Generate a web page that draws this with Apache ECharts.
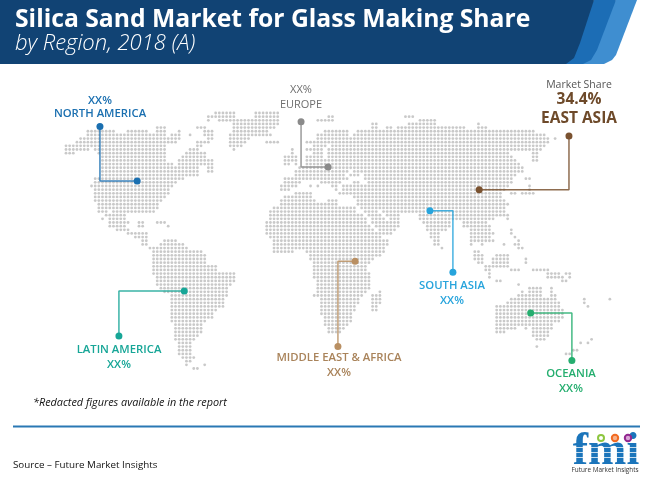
<!DOCTYPE html>
<html>
<head>
<meta charset="utf-8">
<title>Silica Sand Market for Glass Making Share</title>
<script src="https://cdn.jsdelivr.net/npm/echarts@6/dist/echarts.min.js"></script>
<style>
html,body{margin:0;padding:0;background:#fff}
#chart{width:650px;height:481px}
</style>
</head>
<body>
<div id="chart"></div>
<script>
var titleText = 'Silica Sand Market for Glass Making Share'
var subtitleText = 'by Region, 2018 (A)'
var noteText = '*Redacted figures available in the report'
var sourceText = 'Source \u2013 Future Market Insights'

var regionNames = ['NORTH AMERICA', 'EUROPE', 'EAST ASIA', 'SOUTH ASIA', 'MIDDLE EAST & AFRICA', 'LATIN AMERICA', 'OCEANIA']
var regionShares = ['XX%', 'XX%', '34.4%', 'XX%', 'XX%', 'XX%', 'XX%']
var regionColors = ['#1a6fb0', '#8a8a8a', '#7a5230', '#27a4dc', '#b98f62', '#17a697', '#25ae6f']

// leader lines, in dot-grid units (column, row)
var leaderNA = [[9.3, 3.7], [9.3, 18.6], [19.5, 18.6]]
var leaderEU = [[64.4, 2.4], [64.4, 14.8], [71.8, 14.8]]
var leaderEA = [[137.8, 6.3], [137.8, 21], [113.2, 21]]
var leaderSA = [[99.7, 26.8], [106, 26.8], [106, 43.6]]
var leaderMEA = [[79.2, 40.6], [74.5, 40.6], [74.5, 64]]
var leaderLA = [[32.4, 48.8], [14.5, 48.8], [14.5, 61.1]]
var leaderOC = [[127.3, 54.8], [138.6, 54.8], [138.6, 67.8]]
var leaders = [leaderNA, leaderEU, leaderEA, leaderSA, leaderMEA, leaderLA, leaderOC]

// land dots: one entry per map row, pairs of first and last column
var landRows = [
  [41,46, 52,58],
  [39,46, 52,58, 72,73, 93,95],
  [39,39, 42,58, 69,73, 97,101],
  [46,58, 84,85, 94,101, 113,113],
  [25,27, 36,38, 46,57, 84,85, 88,89, 91,109, 113,115],
  [6,13, 17,22, 25,27, 31,31, 38,40, 46,55, 71,77, 80,128],
  [6,27, 29,31, 34,34, 38,40, 45,56, 69,77, 79,131],
  [4,31, 39,40, 45,50, 69,132, 134,134],
  [3,30, 36,39, 45,49, 55,58, 66,132],
  [0,27, 36,37, 45,48, 68,71, 73,131],
  [0,6, 8,27, 34,36, 46,46, 62,62, 66,70, 72,130],
  [0,2, 9,27, 33,38, 62,62, 68,70, 72,121, 128,129],
  [10,27, 32,38, 60,63, 66,70, 72,122, 128,129],
  [10,27, 31,40, 60,63, 66,123, 128,129],
  [10,29, 31,40, 60,61, 63,63, 66,124],
  [10,36, 39,40, 64,125],
  [10,36, 39,40, 63,77, 79,125],
  [10,36, 63,76, 78,80, 82,123],
  [8,32, 60,62, 63,77, 82,122, 126,127],
  [8,30, 60,62, 63,64, 70,75, 79,80, 83,122],
  [7,29, 59,63, 67,67, 69,69, 73,74, 76,121, 127,127],
  [8,28, 59,61, 74,74, 76,120, 127,127],
  [8,28, 63,67, 75,75, 76,119, 122,123, 125,128],
  [8,27, 60,67, 79,119],
  [8,26, 59,68, 72,74, 80,120],
  [9,25, 59,74, 80,121],
  [9,25, 57,79, 81,120],
  [9,11, 13,24, 56,79, 82,85, 87,98, 100,120],
  [11,16, 56,81, 83,86, 88,91, 97,120, 121,121],
  [10,10, 12,16, 56,82, 84,87, 89,91, 97,117, 121,121],
  [12,17, 20,21, 25,27, 55,82, 84,91, 98,105, 109,115],
  [12,16, 20,21, 28,28, 55,83, 85,91, 99,105, 109,116],
  [14,17, 55,84, 86,90, 99,104, 111,116, 122,122],
  [17,22, 55,89, 100,102, 111,117, 122,122],
  [19,22, 56,86, 100,102, 111,116, 123,123],
  [21,22, 27,30, 57,88, 101,102, 111,117, 124,124],
  [21,22, 26,32, 57,88, 101,102, 111,111, 114,114, 120,120, 123,124],
  [23,33, 57,87, 103,103, 124,125],
  [24,37, 57,62, 66,87, 112,113],
  [24,38, 67,86, 112,114, 118,121],
  [24,38, 67,84, 112,114, 117,121, 126,126],
  [24,38, 68,83, 113,114, 117,121, 126,126],
  [24,41, 68,82, 115,116, 117,121],
  [24,41, 68,82, 115,116, 122,124, 128,128, 129,132],
  [24,46, 68,83, 116,116, 132,135, 137,138],
  [25,46, 68,83, 116,116, 132,136, 138,138],
  [25,46, 69,83, 118,119, 136,137],
  [25,45, 69,83, 124,124],
  [26,44, 69,83, 127,130, 133,133],
  [27,44, 69,82, 86,86, 125,125, 127,130, 133,133],
  [29,44, 68,81, 84,86, 124,130, 133,134],
  [29,43, 70,80, 84,86, 122,134, 142,142, 149,149],
  [29,43, 70,80, 84,86, 121,135, 142,142],
  [29,43, 70,79, 84,85, 118,135, 143,143],
  [29,41, 70,79, 84,85, 118,136],
  [29,40, 70,78, 118,136],
  [29,40, 71,78, 118,136],
  [29,38, 71,78, 118,135],
  [30,37, 71,77, 118,133],
  [30,37, 72,76, 118,123, 126,126, 128,133],
  [30,37, 72,75, 118,120, 128,132],
  [30,36, 128,132],
  [30,35, 129,131, 144,144],
  [31,34, 141,141, 143,143],
  [31,34, 129,129],
  [31,34, 139,140],
  [31,34, 137,138],
  [32,35],
  [33,34],
  [33,33, 38,38],
  [35,36]
]

var landDots = []
landRows.forEach(function (spans, row) {
  for (var i = 0; i < spans.length; i += 2) {
    for (var col = spans[i]; col <= spans[i + 1]; col++) landDots.push([col, row])
  }
})

var series = [{
  type: 'scatter',
  data: landDots,
  symbolSize: 2.8,
  itemStyle: { color: '#bcbcbc' },
  silent: true,
  z: 1
}]
leaders.forEach(function (pts, i) {
  series.push({
    name: regionNames[i],
    type: 'line',
    data: pts,
    symbol: 'circle',
    symbolSize: function (v, p) { return p.dataIndex === 1 ? 0 : 7 },
    lineStyle: { color: regionColors[i], width: 1.5, opacity: 0.85 },
    itemStyle: { color: regionColors[i] },
    showAllSymbol: true,
    silent: true,
    z: 3
  })
})

function label(text, x, y, size, weight, color, extra) {
  var st = {
    text: text, x: x, y: y, fill: color,
    font: weight + ' ' + size + 'px "Open Sans"',
    textAlign: 'center', textVerticalAlign: 'middle'
  }
  for (var k in extra) st[k] = extra[k]
  return { type: 'text', style: st, z: 10 }
}
function band(points, color) {
  return { type: 'polygon', shape: { points: points }, style: { fill: color }, z: 2 }
}

var graphics = [
  band([[616, 0], [637, 0], [616, 55], [612, 60], [604, 64], [570, 64]], '#3f8ed0'),
  band([[594, 0], [616, 0], [597, 50], [591, 60], [583, 64], [550, 64]], '#1c6db5'),
  band([[0, 0], [594, 0], [580, 43], [574, 58], [566, 64], [0, 64]], '#114374'),
  label(titleText, 15, 20, 24.7, 700, '#ffffff', { textAlign: 'left' }),
  label(subtitleText, 15, 44, 22, 300, '#ffffff', { textAlign: 'left', font: 'italic 300 22px "Open Sans"' }),

  label(regionShares[0], 100, 101, 11.3, 600, regionColors[0]),
  label(regionNames[0], 100, 114, 11.3, 600, regionColors[0]),
  label(regionShares[1], 301, 90, 11, 400, '#6f6f6f'),
  label(regionNames[1], 301, 105, 11, 400, '#6f6f6f'),
  label('Market Share', 579, 85, 10.5, 400, '#555555'),
  label(regionShares[2], 579, 100, 15.5, 700, '#6e4a2a'),
  label(regionNames[2], 579, 119, 15.5, 700, '#6e4a2a'),
  label(regionNames[3], 452, 286, 11.3, 600, regionColors[3]),
  label(regionShares[3], 452, 301, 11.3, 600, regionColors[3]),
  label(regionNames[4], 339, 358, 11.3, 600, '#a9835a'),
  label(regionShares[4], 339, 373, 11.3, 600, '#a9835a'),
  label(regionNames[5], 119, 350, 11.3, 600, regionColors[5]),
  label(regionShares[5], 119, 365, 11.3, 600, regionColors[5]),
  label(regionNames[6], 571, 374, 11.3, 600, regionColors[6]),
  label(regionShares[6], 571, 389, 11.3, 600, regionColors[6]),

  label(noteText, 33, 403, 10.85, 400, '#111111', { textAlign: 'left', font: 'italic 400 10.85px "Open Sans"' }),
  { type: 'rect', shape: { x: 13, y: 425.5, width: 627, height: 2 }, style: { fill: '#2a78b4' }, z: 2 },
  label(sourceText, 13, 465, 9.8, 400, '#111111', { textAlign: 'left' }),

  // logo
  label('fmi', 606, 452, 46, 700, '#1b75bb', { font: '700 46px "Liberation Serif"' }),
  { type: 'rect', shape: { x: 572, y: 447, width: 68, height: 0.8 }, style: { fill: '#fff' }, z: 11 },
  { type: 'rect', shape: { x: 572, y: 452, width: 68, height: 0.8 }, style: { fill: '#fff' }, z: 11 },
  { type: 'rect', shape: { x: 572, y: 457, width: 68, height: 0.8 }, style: { fill: '#fff' }, z: 11 },
  { type: 'circle', shape: { cx: 601, cy: 438, r: 3 }, style: { fill: '#fff', stroke: '#8dc63f', lineWidth: 2 }, z: 11 },
  { type: 'circle', shape: { cx: 615, cy: 438, r: 3.2 }, style: { fill: '#f6b08a', stroke: '#f26a21', lineWidth: 2 }, z: 11 },
  { type: 'circle', shape: { cx: 628, cy: 438, r: 3.2 }, style: { fill: '#d9a3d6', stroke: '#92278f', lineWidth: 2 }, z: 11 },
  label('Future Market Insights', 605, 470, 6.4, 400, '#333333')
]

var myChart = echarts.init(document.getElementById('chart'))
myChart.setOption({
  animation: false,
  backgroundColor: '#ffffff',
  grid: { left: 66, top: 113, width: 584, height: 365, containLabel: false },
  xAxis: { type: 'value', min: 0, max: 160, show: false },
  yAxis: { type: 'value', min: 0, max: 100, inverse: true, show: false },
  graphic: graphics,
  series: series
})
</script>
</body>
</html>
